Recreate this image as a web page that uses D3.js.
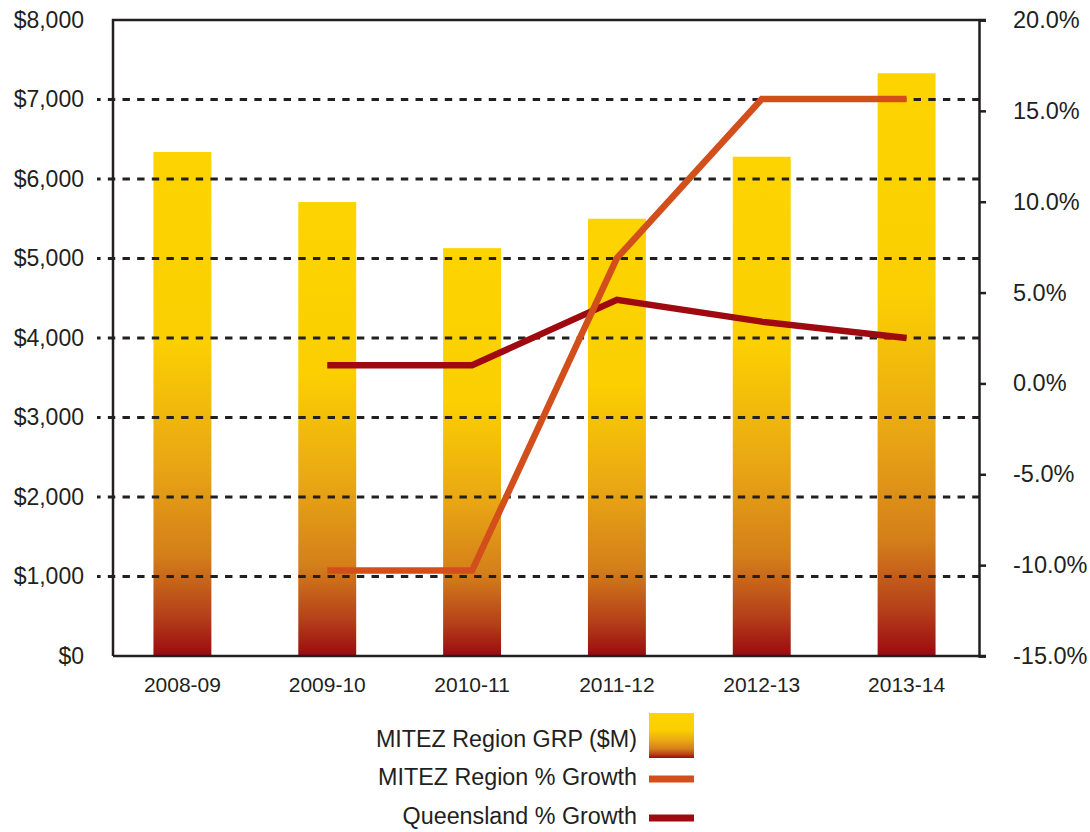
<!DOCTYPE html>
<html>
<head>
<meta charset="utf-8">
<script src="https://cdn.jsdelivr.net/npm/d3@7"></script>
<style>
  html, body { margin: 0; padding: 0; background: #fff; }
  svg { display: block; font-family: "Liberation Sans", Arial, Helvetica, sans-serif; }
  .tick text, .lab { fill: #231f20; }
</style>
</head>
<body>
<svg width="1090" height="832"></svg>
<script>
// values
const categories = ['2008-09', '2009-10', '2010-11', '2011-12', '2012-13', '2013-14'];
const grp = [6340, 5710, 5130, 5500, 6280, 7330];            // $M
const mitezGrowth = [null, -10.3, -10.3, 6.9, 15.65, 15.65];  // %
const qldGrowth = [null, 1.0, 1.0, 4.6, 3.4, 2.5];            // %
const grpTicks = [0, 1000, 2000, 3000, 4000, 5000, 6000, 7000, 8000];
const growthTicks = [-15, -10, -5, 0, 5, 10, 15, 20];

const ink = '#231f20';
const orange = '#d24f1c';
const red = '#9e0a10';

const svg = d3.select('svg');
const plotLeft = 113, plotRight = 979, plotTop = 20, plotBottom = 656;

const x = d3.scaleBand()
  .domain(categories)
  .range([110, 979])
  .paddingInner(0.6)
  .paddingOuter(0.3);

const y = d3.scaleLinear().domain([0, 8000]).range([plotBottom, plotTop]);
const y2 = d3.scaleLinear().domain([-15, 20]).range([plotBottom, plotTop]);

// bar gradient, per bar
const grad = svg.append('defs').append('linearGradient')
  .attr('id', 'barFill')
  .attr('x1', 0).attr('y1', 0).attr('x2', 0).attr('y2', 1);
[
  [0, '#fdd400'], [0.38, '#fbcf02'], [0.62, '#e9a614'],
  [0.8, '#d47f1a'], [0.92, '#b5401a'], [1, '#9b0a10']
].forEach(([o, c]) => grad.append('stop').attr('offset', o).attr('stop-color', c));

// bars
svg.append('g').selectAll('rect')
  .data(grp)
  .enter().append('rect')
    .attr('x', (d, i) => x(categories[i]))
    .attr('y', d => y(d))
    .attr('width', x.bandwidth())
    .attr('height', d => y(0) - y(d))
    .attr('fill', 'url(#barFill)');

// dashed gridlines (run out past the left axis as ticks)
svg.append('g').selectAll('line')
  .data(grpTicks.filter(t => t > 0 && t < 8000))
  .enter().append('line')
    .attr('x1', 97).attr('x2', plotRight)
    .attr('y1', d => y(d)).attr('y2', d => y(d))
    .attr('stroke', ink)
    .attr('stroke-width', 2.8)
    .attr('stroke-dasharray', '7.4,7.25')
    .attr('stroke-dashoffset', 3.8);

// growth lines
const xc = i => x(categories[i]) + x.bandwidth() / 2;
const line = d3.line()
  .defined(d => d != null)
  .x((d, i) => xc(i))
  .y(d => y2(d));

svg.append('path')
  .datum(qldGrowth)
  .attr('fill', 'none')
  .attr('stroke', red)
  .attr('stroke-width', 6.5)
  .attr('d', line);

svg.append('path')
  .datum(mitezGrowth)
  .attr('fill', 'none')
  .attr('stroke', orange)
  .attr('stroke-width', 6.5)
  .attr('d', line);

// frame
const frame = svg.append('g').attr('stroke', ink).attr('stroke-width', 2.5).attr('fill', 'none');
frame.append('path').attr('d', `M${plotLeft},${plotBottom}V${plotTop}H${plotRight + 7}`);
frame.append('path').attr('d', `M${plotLeft},${plotBottom}H${plotRight + 7}`);

// left axis
svg.append('g')
  .attr('transform', `translate(${plotLeft},0)`)
  .call(d3.axisLeft(y).tickValues(grpTicks).tickSize(0).tickPadding(29)
    .tickFormat(d => '$' + d3.format(',')(d)))
  .call(g => g.select('.domain').remove())
  .selectAll('text')
    .attr('font-size', 23)
    .attr('font-family', null);

// right axis
svg.append('g')
  .attr('transform', `translate(${plotRight},0)`)
  .call(d3.axisRight(y2).tickValues(growthTicks).tickSize(7).tickPadding(27)
    .tickFormat(d => d.toFixed(1) + '%'))
  .call(g => g.select('.domain').attr('stroke', ink).attr('stroke-width', 2.5))
  .call(g => g.selectAll('.tick line').attr('stroke', ink).attr('stroke-width', 2.5))
  .selectAll('text')
    .attr('font-size', 23.5)
    .attr('font-family', null);

// bottom labels
svg.append('g')
  .attr('transform', `translate(0,${plotBottom})`)
  .call(d3.axisBottom(x).tickSize(0).tickPadding(21))
  .call(g => g.select('.domain').remove())
  .selectAll('text')
    .attr('font-size', 21)
    .attr('font-family', null);

// legend
const legend = svg.append('g');
const rows = [
  { label: 'MITEZ Region GRP ($M)', y: 739, mark: 735, type: 'box' },
  { label: 'MITEZ Region % Growth', y: 777, mark: 779, type: 'line', color: orange },
  { label: 'Queensland % Growth', y: 816, mark: 818, type: 'line', color: red }
];
rows.forEach(r => {
  legend.append('text')
    .attr('class', 'lab')
    .attr('x', 637)
    .attr('y', r.y)
    .attr('dy', '0.35em')
    .attr('text-anchor', 'end')
    .attr('font-size', 23.3)
    .text(r.label);
  if (r.type === 'box') {
    legend.append('rect')
      .attr('x', 649).attr('y', r.mark - 22)
      .attr('width', 45).attr('height', 45)
      .attr('fill', 'url(#barFill)');
  } else {
    legend.append('line')
      .attr('x1', 649).attr('x2', 694)
      .attr('y1', r.mark).attr('y2', r.mark)
      .attr('stroke', r.color)
      .attr('stroke-width', 7);
  }
});
</script>
</body>
</html>
